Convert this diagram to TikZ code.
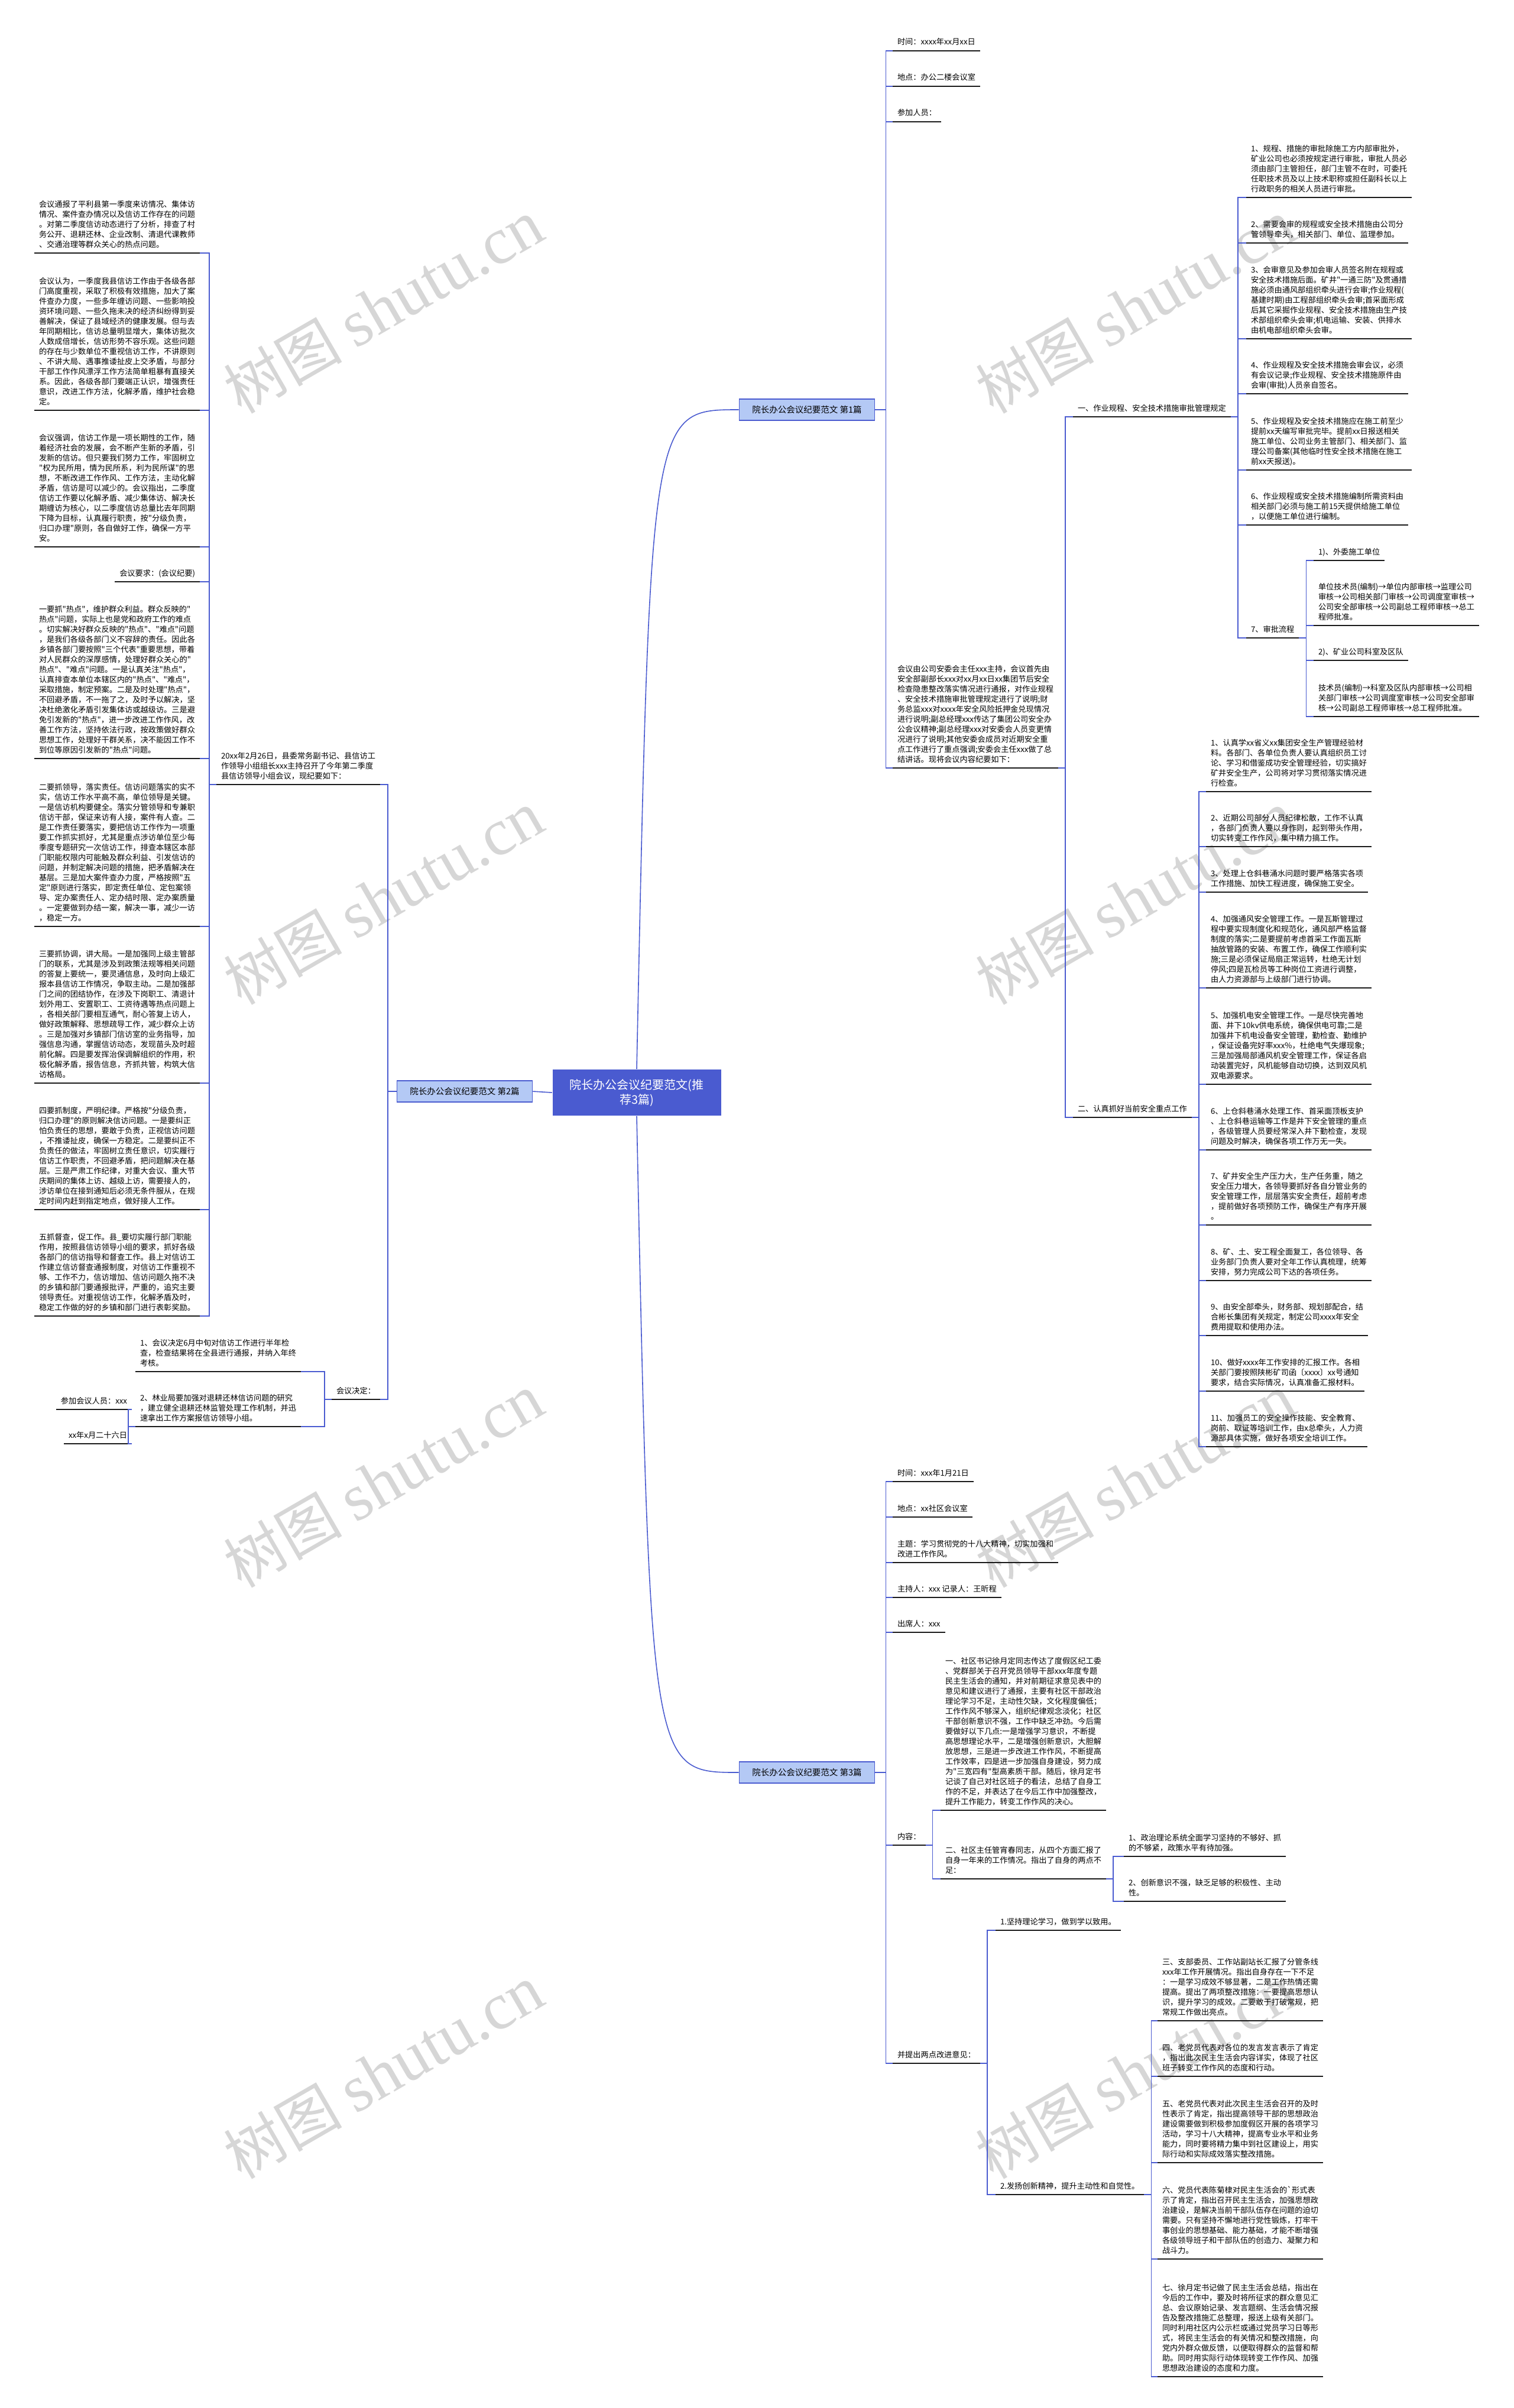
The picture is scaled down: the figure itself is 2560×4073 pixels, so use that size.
\documentclass[tikz,border=0pt]{standalone}
\usepackage{fontspec}
\newfontfamily\cjk{Noto Sans CJK SC}
\newfontfamily\wmfont{Liberation Serif}
\usetikzlibrary{positioning}
\definecolor{cblue}{HTML}{4A5BD0}
\definecolor{clight}{HTML}{B4C9F5}
\definecolor{cline}{HTML}{1A1A1A}
\definecolor{cmark}{HTML}{D6D6D6}
\tikzset{
  every picture/.style={x=1pt, y=-1pt, line width=1.6pt},
  leaf/.style={font=\cjk\fontsize{13.2}{17}\selectfont, align=left, inner xsep=8pt, inner ysep=10pt, text depth=0pt, outer sep=0pt,
    append after command={(\tikzlastnode.south west) edge[uline] (\tikzlastnode.south east)}},
  lr/.style={leaf, anchor=south west},
  ll/.style={leaf, anchor=south east},
  uline/.style={draw=cline, line width=1.8pt},
  link/.style={draw=cblue, line width=1.6pt},
  branch/.style={draw=cblue, fill=clight, line width=1.6pt, font=\cjk\fontsize{14.5}{17}\selectfont, minimum width=229pt, minimum height=36pt, inner sep=0pt},
  root/.style={fill=cblue, text=white, font=\cjk\fontsize{20}{25}\selectfont, align=center, minimum width=285pt, minimum height=78pt, inner sep=0pt},
  wmark/.style={text=cmark, rotate=30, font=\cjk\fontsize{100}{100}\selectfont},
}
\begin{document}
\begin{tikzpicture}
  \useasboundingbox[fill=white] (0,0) rectangle (2560,4073);
  % watermarks
  \foreach \i/\x/\y in {1/649/519, 2/1921/519, 3/649/1519, 4/1921/1519, 5/649/2505, 6/1921/2505, 7/649/3505, 8/1921/3505}
    \node[wmark] (wm\i) at (\x,\y) {树图 {\wmfont\fontsize{112}{112}\selectfont shutu.cn}};

  % root and branches
  \node[root] (root) at (1077,1848) {院长办公会议纪要范文(推\\荐3篇)};
  \node[branch] (b1) at (1365,693) {院长办公会议纪要范文 第1篇};
  \node[branch] (b2) at (786,1846) {院长办公会议纪要范文 第2篇};
  \node[branch] (b3) at (1365,2998) {院长办公会议纪要范文 第3篇};
  \draw[link] (root.north) .. controls (1100,693) .. (b1.west);
  \draw[link] (root.south) .. controls (1100,2998) .. (b3.west);
  \draw[link] (root.west) -- (b2.east);

  % branch 1
  \node[lr] (t1) at (1510,86) {时间：xxxx年xx月xx日};
  \node[lr] (t2) at (1510,146) {地点：办公二楼会议室};
  \node[lr] (t3) at (1510,206) {参加人员：};
  \node[lr] (p1) at (1510,1299) {会议由公司安委会主任xxx主持，会议首先由\\安全部副部长xxx对xx月xx日xx集团节后安全\\检查隐患整改落实情况进行通报，对作业规程\\、安全技术措施审批管理规定进行了说明;财\\务总监xxx对xxxx年安全风险抵押金兑现情况\\进行说明;副总经理xxx传达了集团公司安全办\\公会议精神;副总经理xxx对安委会人员变更情\\况进行了说明;其他安委会成员对近期安全重\\点工作进行了重点强调;安委会主任xxx做了总\\结讲话。现将会议内容纪要如下：};
  \foreach \c in {t1,t2,t3,p1} \draw[link] (b1.east) -- ++(18,0) |- (\c.south west);

  \node[lr] (h1) at (1815,705) {一、作业规程、安全技术措施审批管理规定};
  \node[lr] (h2) at (1815,1890) {二、认真抓好当前安全重点工作};
  \foreach \c in {h1,h2} \draw[link] (p1.south east) -- ++(12,0) |- (\c.south west);

  \node[lr] (a1) at (2108,334) {1、规程、措施的审批除施工方内部审批外，\\矿业公司也必须按规定进行审批，审批人员必\\须由部门主管担任，部门主管不在时，可委托\\任职技术员及以上技术职称或担任副科长以上\\行政职务的相关人员进行审批。};
  \node[lr] (a2) at (2108,411) {2、需要会审的规程或安全技术措施由公司分\\管领导牵头，相关部门、单位、监理参加。};
  \node[lr] (a3) at (2108,573) {3、会审意见及参加会审人员签名附在规程或\\安全技术措施后面。矿井"一通三防"及贯通措\\施必须由通风部组织牵头进行会审;作业规程(\\基建时期)由工程部组织牵头会审;首采面形成\\后其它采掘作业规程、安全技术措施由生产技\\术部组织牵头会审;机电运输、安装、供排水\\由机电部组织牵头会审。};
  \node[lr] (a4) at (2108,666) {4、作业规程及安全技术措施会审会议，必须\\有会议记录;作业规程、安全技术措施原件由\\会审(审批)人员亲自签名。};
  \node[lr] (a5) at (2108,795) {5、作业规程及安全技术措施应在施工前至少\\提前xx天编写审批完毕。提前xx日报送相关\\施工单位、公司业务主管部门、相关部门、监\\理公司备案(其他临时性安全技术措施在施工\\前xx天报送)。};
  \node[lr] (a6) at (2108,888) {6、作业规程或安全技术措施编制所需资料由\\相关部门必须与施工前15天提供给施工单位\\，以便施工单位进行编制。};
  \node[lr] (a7) at (2108,1079) {7、审批流程};
  \foreach \c in {a1,a2,a3,a4,a5,a6,a7} \draw[link] (h1.south east) -- ++(12,0) |- (\c.south west);

  \node[lr] (c1) at (2222,948) {1)、外委施工单位};
  \node[lr] (c2) at (2222,1058) {单位技术员(编制)→单位内部审核→监理公司\\审核→公司相关部门审核→公司调度室审核→\\公司安全部审核→公司副总工程师审核→总工\\程师批准。};
  \node[lr] (c3) at (2222,1117) {2)、矿业公司科室及区队};
  \node[lr] (c4) at (2222,1212) {技术员(编制)→科室及区队内部审核→公司相\\关部门审核→公司调度室审核→公司安全部审\\核→公司副总工程师审核→总工程师批准。};
  \foreach \c in {c1,c2,c3,c4} \draw[link] (a7.south east) -- ++(12,0) |- (\c.south west);

  \node[lr] (d1) at (2040,1339) {1、认真学xx省义xx集团安全生产管理经验材\\料。各部门、各单位负责人要认真组织员工讨\\论、学习和借鉴成功安全管理经验，切实搞好\\矿井安全生产，公司将对学习贯彻落实情况进\\行检查。};
  \node[lr] (d2) at (2040,1432) {2、近期公司部分人员纪律松散，工作不认真\\，各部门负责人要以身作则，起到带头作用，\\切实转变工作作风，集中精力搞工作。};
  \node[lr] (d3) at (2040,1509) {3、处理上仓斜巷涌水问题时要严格落实各项\\工作措施、加快工程进度，确保施工安全。};
  \node[lr] (d4) at (2040,1671) {4、加强通风安全管理工作。一是瓦斯管理过\\程中要实现制度化和规范化，通风部严格监督\\制度的落实;二是要提前考虑首采工作面瓦斯\\抽放管路的安装、布置工作，确保工作顺利实\\施;三是必须保证局扇正常运转，杜绝无计划\\停风;四是瓦检员等工种岗位工资进行调整，\\由人力资源部与上级部门进行协调。};
  \node[lr] (d5) at (2040,1834) {5、加强机电安全管理工作。一是尽快完善地\\面、井下10kv供电系统，确保供电可靠;二是\\加强井下机电设备安全管理，勤检查、勤维护\\，保证设备完好率xxx\%，杜绝电气失爆现象;\\三是加强局部通风机安全管理工作，保证各启\\动装置完好，风机能够自动切换，达到双风机\\双电源要求。};
  \node[lr] (d6) at (2040,1945) {6、上仓斜巷涌水处理工作、首采面顶板支护\\、上仓斜巷运输等工作是井下安全管理的重点\\，各级管理人员要经常深入井下勤检查，发现\\问题及时解决，确保各项工作万无一失。};
  \node[lr] (d7) at (2040,2072) {7、矿井安全生产压力大，生产任务重，随之\\安全压力增大，各领导要抓好各自分管业务的\\安全管理工作，层层落实安全责任，超前考虑\\，提前做好各项预防工作，确保生产有序开展\\。};
  \node[lr] (d8) at (2040,2166) {8、矿、土、安工程全面复工，各位领导、各\\业务部门负责人要对全年工作认真梳理，统筹\\安排，努力完成公司下达的各项任务。};
  \node[lr] (d9) at (2040,2259) {9、由安全部牵头，财务部、规划部配合，结\\合彬长集团有关规定，制定公司xxxx年安全\\费用提取和使用办法。};
  \node[lr] (d10) at (2040,2353) {10、做好xxxx年工作安排的汇报工作。各相\\关部门要按照陕彬矿司函〔xxxx〕xx号通知\\要求，结合实际情况，认真准备汇报材料。};
  \node[lr] (d11) at (2040,2447) {11、加强员工的安全操作技能、安全教育、\\岗前、取证等培训工作，由x总牵头，人力资\\源部具体实施，做好各项安全培训工作。};
  \foreach \c in {d1,d2,d3,d4,d5,d6,d7,d8,d9,d10,d11} \draw[link] (h2.south east) -- ++(12,0) |- (\c.south west);

  % branch 2
  \node[ll] (m1) at (643,1327) {20xx年2月26日，县委常务副书记、县信访工\\作领导小组组长xxx主持召开了今年第二季度\\县信访领导小组会议，现纪要如下：};
  \node[ll] (m2) at (643,2367) {会议决定：};
  \foreach \c in {m1,m2} \draw[link] (b2.west) -- ++(-15,0) |- (\c.south east);

  \node[ll] (l1) at (338,428) {会议通报了平利县第一季度来访情况、集体访\\情况、案件查办情况以及信访工作存在的问题\\。对第二季度信访动态进行了分析，排查了村\\务公开、退耕还林、企业改制、清退代课教师\\、交通治理等群众关心的热点问题。};
  \node[ll] (l2) at (338,694) {会议认为，一季度我县信访工作由于各级各部\\门高度重视，采取了积极有效措施，加大了案\\件查办力度，一些多年缠访问题、一些影响投\\资环境问题、一些久拖未决的经济纠纷得到妥\\善解决，保证了县域经济的健康发展。但与去\\年同期相比，信访总量明显增大，集体访批次\\人数成倍增长，信访形势不容乐观。这些问题\\的存在与少数单位不重视信访工作，不讲原则\\、不讲大局、遇事推诿扯皮上交矛盾，与部分\\干部工作作风漂浮工作方法简单粗暴有直接关\\系。因此，各级各部门要端正认识，增强责任\\意识，改进工作方法，化解矛盾，维护社会稳\\定。};
  \node[ll] (l3) at (338,925) {会议强调，信访工作是一项长期性的工作，随\\着经济社会的发展，会不断产生新的矛盾，引\\发新的信访。但只要我们努力工作，牢固树立\\"权为民所用，情为民所系，利为民所谋"的思\\想，不断改进工作作风、工作方法，主动化解\\矛盾，信访是可以减少的。会议指出，二季度\\信访工作要以化解矛盾、减少集体访、解决长\\期缠访为核心，以二季度信访总量比去年同期\\下降为目标，认真履行职责，按"分级负责，\\归口办理"原则，各自做好工作，确保一方平\\安。};
  \node[ll] (l4) at (338,984) {会议要求：(会议纪要)};
  \node[ll] (l5) at (338,1283) {一要抓"热点"，维护群众利益。群众反映的"\\热点"问题，实际上也是党和政府工作的难点\\。切实解决好群众反映的"热点"、"难点"问题\\，是我们各级各部门义不容辞的责任。因此各\\乡镇各部门要按照"三个代表"重要思想，带着\\对人民群众的深厚感情，处理好群众关心的"\\热点"、"难点"问题。一是认真关注"热点"，\\认真排查本单位本辖区内的"热点"、"难点"，\\采取措施，制定预案。二是及时处理"热点"，\\不回避矛盾，不一拖了之，及时予以解决，坚\\决杜绝激化矛盾引发集体访或越级访。三是避\\免引发新的"热点"，进一步改进工作作风，改\\善工作方法，坚持依法行政，按政策做好群众\\思想工作，处理好干群关系，决不能因工作不\\到位等原因引发新的"热点"问题。};
  \node[ll] (l6) at (338,1567) {二要抓领导，落实责任。信访问题落实的实不\\实，信访工作水平高不高，单位领导是关键。\\一是信访机构要健全。落实分管领导和专兼职\\信访干部，保证来访有人接，案件有人查。二\\是工作责任要落实，要把信访工作作为一项重\\要工作抓实抓好，尤其是重点涉访单位至少每\\季度专题研究一次信访工作，排查本辖区本部\\门职能权限内可能触及群众利益、引发信访的\\问题，并制定解决问题的措施，把矛盾解决在\\基层。三是加大案件查办力度，严格按照"五\\定"原则进行落实，即定责任单位、定包案领\\导、定办案责任人、定办结时限、定办案质量\\。一定要做到办结一案，解决一事，减少一访\\，稳定一方。};
  \node[ll] (l7) at (338,1832) {三要抓协调，讲大局。一是加强同上级主管部\\门的联系，尤其是涉及到政策法规等相关问题\\的答复上要统一，要灵通信息，及时向上级汇\\报本县信访工作情况，争取主动。二是加强部\\门之间的团结协作，在涉及下岗职工、清退计\\划外用工、安置职工、工资待遇等热点问题上\\，各相关部门要相互通气，耐心答复上访人，\\做好政策解释、思想疏导工作，减少群众上访\\。三是加强对乡镇部门信访室的业务指导，加\\强信息沟通，掌握信访动态，发现苗头及时超\\前化解。四是要发挥治保调解组织的作用，积\\极化解矛盾，报告信息，齐抓共管，构筑大信\\访格局。};
  \node[ll] (l8) at (338,2046) {四要抓制度，严明纪律。严格按"分级负责，\\归口办理"的原则解决信访问题。一是要纠正\\怕负责任的思想，要敢于负责，正视信访问题\\，不推诿扯皮，确保一方稳定。二是要纠正不\\负责任的做法，牢固树立责任意识，切实履行\\信访工作职责，不回避矛盾，把问题解决在基\\层。三是严肃工作纪律，对重大会议、重大节\\庆期间的集体上访、越级上访，需要接人的，\\涉访单位在接到通知后必须无条件服从，在规\\定时间内赶到指定地点，做好接人工作。};
  \node[ll] (l9) at (338,2226) {五抓督查，促工作。县\_要切实履行部门职能\\作用，按照县信访领导小组的要求，抓好各级\\各部门的信访指导和督查工作。县上对信访工\\作建立信访督查通报制度，对信访工作重视不\\够、工作不力，信访增加、信访问题久拖不决\\的乡镇和部门要通报批评，严重的，追究主要\\领导责任。对重视信访工作，化解矛盾及时，\\稳定工作做的好的乡镇和部门进行表彰奖励。};
  \foreach \c in {l1,l2,l3,l4,l5,l6,l7,l8,l9} \draw[link] (m1.south west) -- ++(-12,0) |- (\c.south east);

  \node[ll] (e1) at (509,2320) {1、会议决定6月中旬对信访工作进行半年检\\查，检查结果将在全县进行通报，并纳入年终\\考核。};
  \node[ll] (e2) at (509,2413) {2、林业局要加强对退耕还林信访问题的研究\\，建立健全退耕还林监管处理工作机制，并迅\\速拿出工作方案报信访领导小组。};
  \foreach \c in {e1,e2} \draw[link] (m2.south west) -- ++(-12,0) |- (\c.south east);
  \node[ll] (f1) at (223,2384) {参加会议人员：xxx};
  \node[ll] (f2) at (223,2442) {xx年x月二十六日};
  \foreach \c in {f1,f2} \draw[link] (e2.south west) -- ++(-12,0) |- (\c.south east);

  % branch 3
  \node[lr] (g1) at (1510,2506) {时间：xxx年1月21日};
  \node[lr] (g2) at (1510,2566) {地点：xx社区会议室};
  \node[lr] (g3) at (1510,2643) {主题：学习贯彻党的十八大精神，切实加强和\\改进工作作风。};
  \node[lr] (g4) at (1510,2702) {主持人：xxx 记录人：王昕程};
  \node[lr] (g5) at (1510,2761) {出席人：xxx};
  \node[lr] (g6) at (1510,3121) {内容：};
  \node[lr] (g7) at (1510,3490) {并提出两点改进意见：};
  \foreach \c in {g1,g2,g3,g4,g5,g6,g7} \draw[link] (b3.east) -- ++(18,0) |- (\c.south west);

  \node[lr] (k1) at (1591,3062) {一、社区书记徐月定同志传达了度假区纪工委\\、党群部关于召开党员领导干部xxx年度专题\\民主生活会的通知，并对前期征求意见表中的\\意见和建议进行了通报，主要有社区干部政治\\理论学习不足，主动性欠缺，文化程度偏低；\\工作作风不够深入，组织纪律观念淡化；社区\\干部创新意识不强，工作中缺乏冲劲。今后需\\要做好以下几点:一是增强学习意识，不断提\\高思想理论水平，二是增强创新意识，大胆解\\放思想，三是进一步改进工作作风，不断提高\\工作效率，四是进一步加强自身建设，努力成\\为"三宽四有"型高素质干部。随后，徐月定书\\记谈了自己对社区班子的看法，总结了自身工\\作的不足，并表达了在今后工作中加强整改，\\提升工作能力，转变工作作风的决心。};
  \node[lr] (k2) at (1591,3178) {二、社区主任管宵春同志，从四个方面汇报了\\自身一年来的工作情况。指出了自身的两点不\\足：};
  \foreach \c in {k1,k2} \draw[link] (g6.south east) -- ++(12,0) |- (\c.south west);
  \node[lr] (n1) at (1901,3140) {1、政治理论系统全面学习坚持的不够好、抓\\的不够紧，政策水平有待加强。};
  \node[lr] (n2) at (1901,3216) {2、创新意识不强，缺乏足够的积极性、主动\\性。};
  \foreach \c in {n1,n2} \draw[link] (k2.south east) -- ++(12,0) |- (\c.south west);

  \node[lr] (q1) at (1684,3265) {1.坚持理论学习，做到学以致用。};
  \node[lr] (q2) at (1684,3712) {2.发扬创新精神，提升主动性和自觉性。};
  \foreach \c in {q1,q2} \draw[link] (g7.south east) -- ++(12,0) |- (\c.south west);

  \node[lr] (r1) at (1958,3418) {三、支部委员、工作站副站长汇报了分管条线\\xxx年工作开展情况。指出自身存在一下不足\\：一是学习成效不够显著，二是工作热情还需\\提高。提出了两项整改措施：一要提高思想认\\识，提升学习的成效。二要敢于打破常规，把\\常规工作做出亮点。};
  \node[lr] (r2) at (1958,3512) {四、老党员代表对各位的发言发言表示了肯定\\，指出此次民主生活会内容详实，体现了社区\\班子转变工作作风的态度和行动。};
  \node[lr] (r3) at (1958,3658) {五、老党员代表对此次民主生活会召开的及时\\性表示了肯定，指出提高领导干部的思想政治\\建设需要做到积极参加度假区开展的各项学习\\活动，学习十八大精神，提高专业水平和业务\\能力，同时要将精力集中到社区建设上，用实\\际行动和实际成效落实整改措施。};
  \node[lr] (r4) at (1958,3821) {六、党员代表陈菊棣对民主生活会的\textasciigrave 形式表\\示了肯定，指出召开民主生活会，加强思想政\\治建设，是解决当前干部队伍存在问题的迫切\\需要。只有坚持不懈地进行党性锻炼，打牢干\\事创业的思想基础、能力基础，才能不断增强\\各级领导班子和干部队伍的创造力、凝聚力和\\战斗力。};
  \node[lr] (r5) at (1958,4020) {七、徐月定书记做了民主生活会总结，指出在\\今后的工作中，要及时将所征求的群众意见汇\\总、会议原始记录、发言题纲、生活会情况报\\告及整改措施汇总整理，报送上级有关部门。\\同时利用社区内公示栏或通过党员学习日等形\\式，将民主生活会的有关情况和整改措施，向\\党内外群众做反馈，以便取得群众的监督和帮\\助。同时用实际行动体现转变工作作风、加强\\思想政治建设的态度和力度。};
  \foreach \c in {r1,r2,r3,r4,r5} \draw[link] (q2.south east) -- ++(12,0) |- (\c.south west);
\end{tikzpicture}
\end{document}
